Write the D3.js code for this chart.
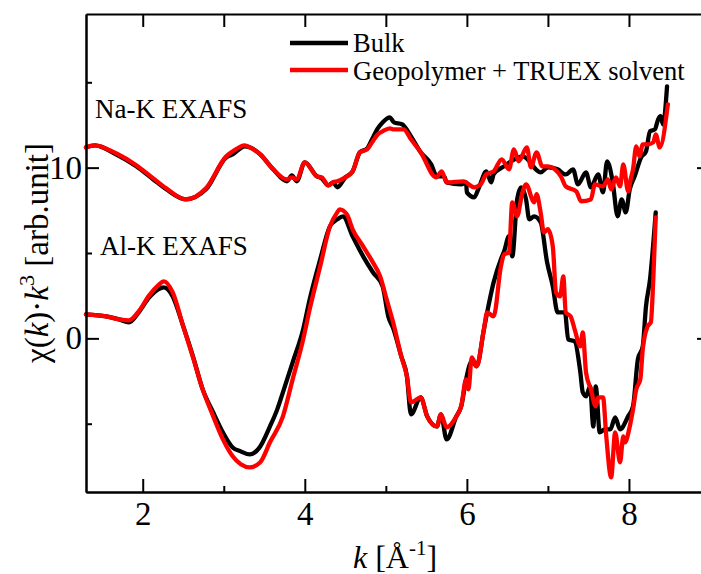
<!DOCTYPE html>
<html>
<head>
<meta charset="utf-8">
<script src="https://cdn.jsdelivr.net/npm/d3@7"></script>
<style>
  body { margin: 0; background: #fff; }
  svg text { font-family: "Liberation Serif", "Times New Roman", serif; fill: #000; }
  .axis path, .axis line { stroke: #000; stroke-width: 2; }
</style>
</head>
<body>
<div id="chart"></div>
<script>
// k values and chi(k)*k^3 (Na-K is shifted up by ~10)
var na_bulk_k = [1.30,1.41,1.67,1.92,2.13,2.29,2.53,2.78,3.03,3.11,3.26,3.32,3.45,3.61,3.78,3.84,3.90,4.00,4.15,4.21,4.29,4.35,4.40,4.50,4.59,4.68,4.77,4.83,4.90,4.96,5.05,5.10,5.20,5.31,5.43,5.56,5.63,5.72,5.75,5.93,5.99,6.00,6.09,6.15,6.24,6.30,6.33,6.46,6.69,6.91,7.00,7.12,7.22,7.31,7.37,7.47,7.53,7.62,7.68,7.73,7.80,7.86,7.91,7.96,8.01,8.07,8.15,8.21,8.26,8.32,8.36,8.39,8.42,8.47];
var na_bulk_v = [11.19,11.31,10.78,10.08,9.31,8.73,8.14,8.73,10.60,10.78,11.25,11.19,10.78,9.90,9.20,9.55,9.20,10.31,9.49,9.37,8.96,9.14,8.85,9.43,9.78,10.90,11.13,11.66,12.30,12.65,12.95,12.65,12.54,11.83,10.90,10.19,9.49,9.49,9.14,9.02,9.14,8.55,8.26,8.85,9.78,9.14,9.61,10.08,10.66,9.72,10.02,9.90,9.60,9.90,9.02,9.72,8.85,9.61,8.55,10.37,9.14,7.15,8.14,7.38,8.73,9.49,10.60,10.95,12.13,12.24,12.83,13.01,12.54,14.76];

var na_geo_k = [1.30,1.41,1.67,1.92,2.13,2.29,2.53,2.78,3.03,3.11,3.26,3.32,3.45,3.61,3.78,3.84,3.90,4.00,4.15,4.21,4.29,4.35,4.40,4.50,4.59,4.68,4.77,4.83,4.90,4.96,5.05,5.10,5.22,5.31,5.43,5.62,5.69,5.75,5.96,6.09,6.17,6.24,6.33,6.43,6.52,6.58,6.64,6.74,6.79,6.86,6.93,7.00,7.16,7.22,7.35,7.41,7.53,7.58,7.68,7.74,7.78,7.84,7.89,7.93,7.99,8.02,8.05,8.09,8.13,8.17,8.23,8.30,8.33,8.38,8.48];
var na_geo_v = [11.19,11.31,10.84,10.14,9.37,8.79,8.14,8.79,10.66,10.95,11.31,11.19,10.78,9.90,9.31,9.43,9.31,10.31,9.49,9.43,8.96,9.14,9.20,9.43,9.78,10.90,11.07,11.48,11.95,12.13,12.30,12.24,12.24,11.66,10.90,9.43,9.78,9.14,9.20,8.85,9.02,9.61,9.78,10.49,9.90,11.07,10.37,11.19,10.02,10.90,10.08,10.08,9.49,8.90,8.61,8.03,8.14,9.02,8.90,9.31,8.73,9.43,8.90,10.19,8.61,9.31,9.90,11.25,10.66,11.36,11.36,11.48,11.95,11.19,13.71];

var al_bulk_k = [1.30,1.55,1.71,1.83,1.95,2.08,2.19,2.26,2.37,2.50,2.62,2.74,2.87,2.99,3.11,3.21,3.32,3.45,3.57,3.66,3.73,3.85,3.98,4.06,4.19,4.31,4.40,4.47,4.59,4.72,4.84,4.96,5.03,5.09,5.19,5.26,5.31,5.43,5.51,5.63,5.68,5.75,5.87,5.93,5.99,6.06,6.12,6.21,6.25,6.33,6.42,6.46,6.52,6.56,6.62,6.67,6.73,6.77,6.83,6.91,6.99,7.06,7.12,7.21,7.25,7.33,7.40,7.43,7.47,7.52,7.56,7.59,7.64,7.70,7.77,7.83,7.89,7.99,8.05,8.11,8.17,8.21,8.26,8.33];
var al_bulk_v = [1.41,1.29,1.11,0.94,1.52,2.40,2.87,2.99,2.46,0.70,-1.05,-2.99,-4.34,-5.51,-6.39,-6.62,-6.80,-6.33,-5.16,-4.16,-3.16,-1.41,0.53,2.28,4.63,6.56,6.97,7.15,5.98,4.80,3.87,3.05,1.29,0.60,-1.05,-2.23,-4.45,-3.46,-4.57,-5.16,-4.45,-5.92,-4.57,-3.98,-2.40,-1.35,-1.64,0.53,1.52,3.28,4.63,5.10,5.98,4.80,8.14,8.85,8.14,6.97,7.15,6.80,4.45,3.05,1.52,1.52,-0.06,-0.18,-1.99,-3.16,-3.40,-2.81,-5.16,-2.81,-5.51,-5.33,-5.33,-4.63,-5.33,-4.57,-3.98,-1.23,-0.47,1.87,3.46,7.38];

var al_geo_k = [1.30,1.55,1.71,1.83,1.95,2.08,2.19,2.26,2.37,2.50,2.62,2.74,2.87,2.99,3.11,3.21,3.32,3.45,3.57,3.73,3.85,3.98,4.06,4.19,4.31,4.40,4.43,4.52,4.59,4.72,4.84,4.93,5.01,5.09,5.19,5.26,5.31,5.43,5.51,5.63,5.68,5.75,5.87,5.93,5.99,6.02,6.06,6.12,6.21,6.25,6.33,6.42,6.46,6.52,6.56,6.62,6.68,6.73,6.83,6.86,6.91,6.95,7.00,7.06,7.10,7.15,7.19,7.22,7.28,7.33,7.40,7.43,7.47,7.53,7.59,7.62,7.68,7.72,7.78,7.83,7.89,7.93,7.95,8.01,8.05,8.09,8.14,8.17,8.23,8.27,8.30,8.33];
var al_geo_v = [1.41,1.29,1.11,1.05,1.58,2.52,3.10,3.34,2.69,0.70,-1.11,-2.99,-4.57,-5.92,-6.91,-7.38,-7.56,-7.26,-6.09,-4.57,-2.40,-0.06,1.70,4.22,6.56,7.38,7.56,7.26,6.39,5.39,4.45,3.63,2.28,0.94,-1.05,-2.23,-3.75,-3.46,-4.57,-5.16,-4.45,-5.21,-4.57,-3.98,-2.40,-2.99,-1.11,-1.64,0.53,1.52,1.29,4.22,4.92,5.04,7.97,7.15,8.44,9.02,7.97,8.44,7.38,6.21,6.39,5.39,2.69,2.46,3.63,1.52,1.29,0.53,-0.47,0.35,-1.99,-2.99,-3.98,-3.46,-3.46,-5.74,-8.14,-5.51,-7.26,-5.74,-6.09,-5.16,-4.16,-2.99,-2.40,-0.64,0.70,0.94,3.46,7.09];

var series_names = ["Bulk", "Geopolymer + TRUEX solvent"];
var series_colors = ["#000000", "#ff0000"];
var panel_labels = ["Na-K EXAFS", "Al-K EXAFS"];

var x_domain = [1.3, 9.0];
var y_domain = [-9, 19];
var x_major = [2, 4, 6, 8];
var x_minor = [3, 5, 7];
var y_major = [0, 10];
var y_minor = [-5, 5, 15];

var graph_w = 701, graph_h = 574;
var plot_l = 86, plot_r = 710, plot_t = 14, plot_b = 492;

var x_ax = d3.scaleLinear().domain(x_domain).range([plot_l, plot_r]);
var y_ax = d3.scaleLinear().domain(y_domain).range([plot_b, plot_t]);

function zip(ks, vs) {
  return ks.map(function(k, i) { return {k: k, v: vs[i]}; });
}

var line = d3.line()
  .x(function(d) { return x_ax(d.k); })
  .y(function(d) { return y_ax(d.v); })
  .curve(d3.curveMonotoneX);

var svg = d3.select("#chart").append("svg")
  .attr("width", graph_w)
  .attr("height", graph_h);

// curves
var curves = [
  [zip(na_bulk_k, na_bulk_v), 0],
  [zip(na_geo_k, na_geo_v), 1],
  [zip(al_bulk_k, al_bulk_v), 0],
  [zip(al_geo_k, al_geo_v), 1]
];
curves.forEach(function(c) {
  svg.append("path")
    .attr("d", line(c[0]))
    .attr("fill", "none")
    .attr("stroke", series_colors[c[1]])
    .attr("stroke-width", 4.3)
    .attr("stroke-linejoin", "round")
    .attr("stroke-linecap", "round");
});

function bigText(g) {
  g.selectAll("text").attr("font-size", 33).attr("font-family", "Liberation Serif");
}

// axes and frame
svg.append("g").attr("class", "axis")
  .attr("transform", "translate(0," + plot_b + ")")
  .call(d3.axisBottom(x_ax).tickValues(x_major).tickSizeInner(-13).tickSizeOuter(0).tickPadding(10).tickFormat(d3.format("d")))
  .call(bigText);
svg.append("g").attr("class", "axis")
  .attr("transform", "translate(0," + plot_b + ")")
  .call(d3.axisBottom(x_ax).tickValues(x_minor).tickSizeInner(-6).tickSizeOuter(0).tickFormat(""));
svg.append("g").attr("class", "axis")
  .attr("transform", "translate(0," + plot_t + ")")
  .call(d3.axisTop(x_ax).tickValues(x_major.concat(x_minor)).tickSizeInner(-13).tickSizeOuter(0).tickFormat(""));
svg.append("g").attr("class", "axis")
  .attr("transform", "translate(" + plot_l + ",0)")
  .call(d3.axisLeft(y_ax).tickValues(y_major).tickSizeInner(-13).tickSizeOuter(0).tickPadding(4).tickFormat(d3.format("d")))
  .call(bigText);
svg.append("g").attr("class", "axis")
  .attr("transform", "translate(" + plot_l + ",0)")
  .call(d3.axisLeft(y_ax).tickValues(y_minor).tickSizeInner(-6).tickSizeOuter(0).tickFormat(""));
svg.append("g").attr("class", "axis")
  .attr("transform", "translate(" + plot_r + ",0)")
  .call(d3.axisRight(y_ax).tickValues(y_major).tickSizeInner(-13).tickSizeOuter(0).tickFormat(""));
svg.append("g").attr("class", "axis")
  .attr("transform", "translate(" + plot_r + ",0)")
  .call(d3.axisRight(y_ax).tickValues(y_minor).tickSizeInner(-6).tickSizeOuter(0).tickFormat(""));

// panel labels
svg.append("text").attr("x", 95).attr("y", 118).attr("font-size", 27).text(panel_labels[0]);
svg.append("text").attr("x", 100).attr("y", 255).attr("font-size", 27).text(panel_labels[1]);

// legend
series_names.forEach(function(name, i) {
  var ly = 43 + i * 27;
  svg.append("line")
    .attr("x1", 290).attr("x2", 348)
    .attr("y1", ly).attr("y2", ly)
    .attr("stroke", series_colors[i])
    .attr("stroke-width", 4.5);
  svg.append("text")
    .attr("x", 353).attr("y", 52 + i * 28)
    .attr("font-size", 26.5)
    .text(name);
});

// x title
var xt = svg.append("text")
  .attr("x", 353).attr("y", 568)
  .attr("font-size", 32);
xt.append("tspan").attr("font-style", "italic").text("k");
xt.append("tspan").text(" [\u00c5");
xt.append("tspan").attr("font-size", 21).attr("dy", -13).text("-1");
xt.append("tspan").attr("dy", 13).text("]");

// y title
var yt = svg.append("text")
  .attr("transform", "translate(48," + ((plot_t + plot_b) / 2) + ") rotate(-90)")
  .attr("text-anchor", "middle")
  .attr("font-size", 33);
yt.append("tspan").text("\u03c7(");
yt.append("tspan").attr("font-style", "italic").text("k");
yt.append("tspan").text(")\u00b7");
yt.append("tspan").attr("font-style", "italic").text("k");
yt.append("tspan").attr("font-size", 22).attr("dy", -14).text("3");
yt.append("tspan").attr("dy", 14).text(" [arb.unit]");
</script>
</body>
</html>
